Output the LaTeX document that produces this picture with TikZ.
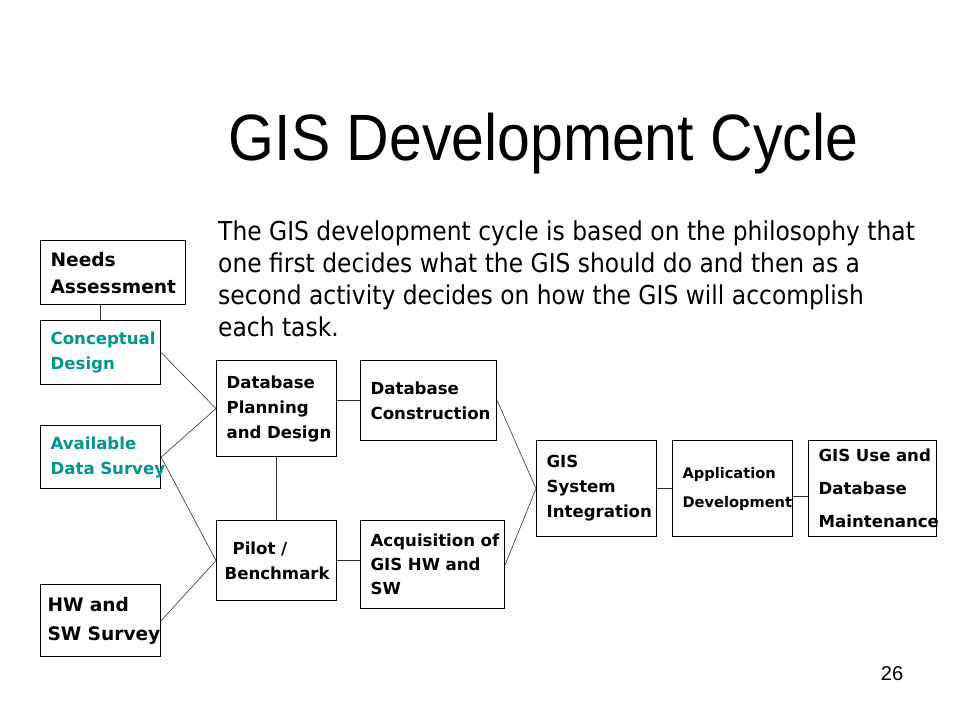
\documentclass[tikz,border=0pt]{standalone}
\usepackage{fontspec}
\setmainfont{DejaVu Sans}
\newfontfamily\titlefont[FakeStretch=0.9]{Liberation Sans}
\newfontfamily\parafont[FakeStretch=0.9]{DejaVu Sans}
\newfontfamily\boxfont{DejaVu Sans}
\newfontfamily\pagefont{Liberation Sans}
\usetikzlibrary{positioning}
\definecolor{stageteal}{RGB}{0,150,140}

\tikzset{
  stage/.style={draw, line width=1.2pt, anchor=north west, align=left,
    inner xsep=10pt, inner ysep=0pt, font=\boxfont\bfseries\fontsize{16.6}{25}\selectfont,
    execute at begin node={\hyphenpenalty=10000\exhyphenpenalty=10000}},
  link/.style={line width=0.6pt, black!80},
}

\begin{document}
\begin{tikzpicture}[x=1pt, y=-1pt]

        % Frame of the slide
        \useasboundingbox[fill=white] (0,0) rectangle (960,720);

        % Title
        \node[font=\titlefont\fontsize{65.5}{70}\selectfont, anchor=base] (title) at (543.5,160) {GIS Development Cycle};

        % Intro text
        \node[anchor=north west, inner sep=0pt, align=left, font=\parafont\fontsize{26}{32}\selectfont] (intro) at (218,221)
        {The GIS development cycle is based on the philosophy that\\
         one first decides what the GIS should do and then as a\\
         second activity decides on how the GIS will accomplish\\
         each task.};

        % Left column
        \node[stage, text width=125pt, minimum height=64pt, font=\boxfont\bfseries\fontsize{18.6}{27}\selectfont] (needs) at (40,240) {Needs\\Assessment};
        \node[stage, text width=100pt, minimum height=64pt, text=stageteal] (concept) at (40,320) {Conceptual\\Design};
        \node[stage, text width=100pt, minimum height=63pt, text=stageteal] (avail) at (40,425) {Available\\Data~Survey};
        \node[stage, text width=106pt, inner xsep=7pt, minimum height=72pt, font=\boxfont\bfseries\fontsize{18.6}{29}\selectfont] (hw) at (40,584) {HW~and\\SW~Survey};

        % Middle boxes
        \node[stage, text width=100pt, minimum height=96pt] (plan) at (216,360) {Database\\Planning\\and~Design};
        \node[stage, text width=104pt, inner xsep=8pt, minimum height=80pt] (pilot) at (216,520) {\hspace*{8pt}Pilot~/\\Benchmark};
        \node[stage, text width=116pt, minimum height=80pt] (constr) at (360,360) {Database\\Construction};
        \node[stage, text width=124pt, minimum height=88pt, font=\boxfont\bfseries\fontsize{16.6}{24}\selectfont] (acq) at (360,520) {Acquisition~of\\GIS~HW~and\\SW};

        % Right row
        \node[stage, text width=100pt, minimum height=96pt] (integ) at (536,440) {GIS\\System\\Integration};
        \node[stage, text width=100pt, minimum height=96pt, font=\boxfont\bfseries\fontsize{14.6}{29}\selectfont] (app) at (672,440) {Application\\Development};
        \node[stage, text width=108pt, minimum height=96pt, font=\boxfont\bfseries\fontsize{16.6}{33}\selectfont] (use) at (808,440) {GIS~Use~and\\Database\\Maintenance};

        % Connectors
        \draw[link] (concept.north) -- (concept.north |- needs.south);
        \draw[link] (concept.east) -- (plan.west);
        \draw[link] (avail.east) -- (plan.west);
        \draw[link] (avail.east) -- (pilot.west);
        \draw[link] (hw.east) -- (pilot.west);
        \draw[link] (plan.south) -- (pilot.north);
        \draw[link] (plan.east |- constr.west) -- (constr.west);
        \draw[link] (pilot.east) -- (pilot.east -| acq.west);
        \draw[link] (constr.east) -- (integ.west);
        \draw[link] (acq.east) -- (integ.west);
        \draw[link] (integ.east) -- (app.west);
        \draw[link] ([yshift=-8pt]app.east) -- ([yshift=-8pt]use.west);

        % Page number
        \node[font=\pagefont\fontsize{20}{24}\selectfont, anchor=base] (page) at (892,680) {26};

\end{tikzpicture}
\end{document}
